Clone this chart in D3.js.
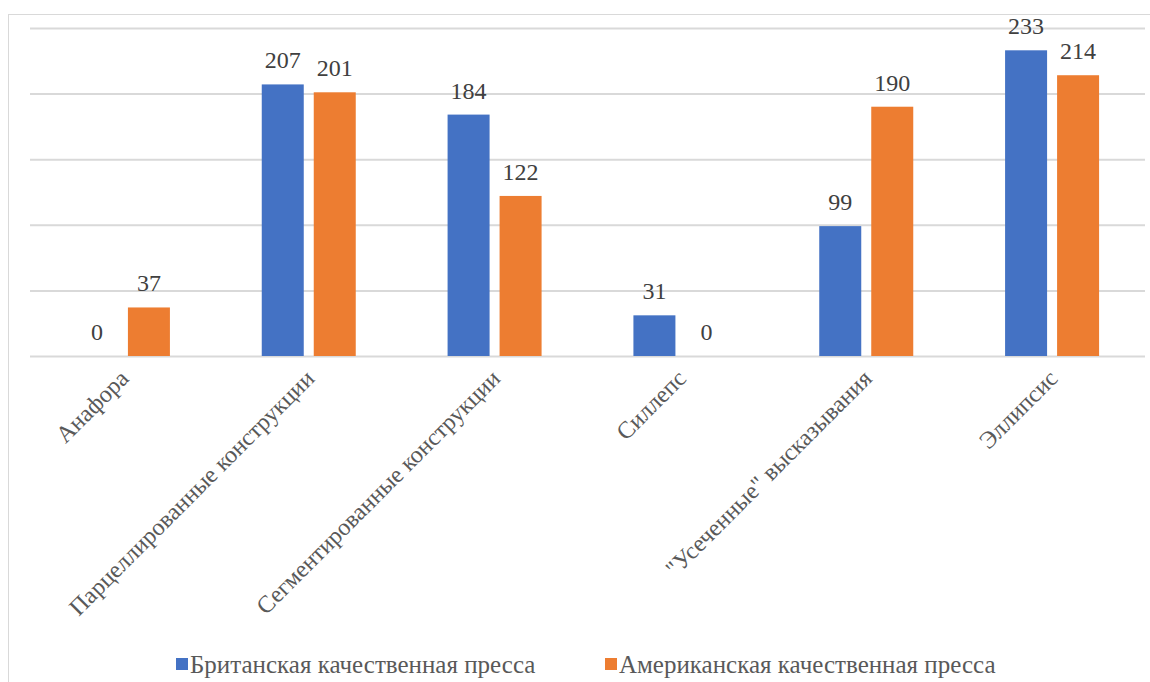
<!DOCTYPE html>
<html>
<head>
<meta charset="utf-8">
<script src="https://cdn.jsdelivr.net/npm/d3@7"></script>
</head>
<body style="margin:0">
<div id="chart"></div>
<script>
// data
var categories = ["Анафора", "Парцеллированные конструкции", "Сегментированные конструкции", "Силлепс", "\"Усеченные\"  высказывания", "Эллипсис"];
var british = [0, 207, 184, 31, 99, 233];
var american = [37, 201, 122, 0, 190, 214];
var seriesNames = ["Британская качественная пресса", "Американская качественная пресса"];
var yTicks = [0, 50, 100, 150, 200, 250];

var W = 1150, H = 682;
var plot = {left: 30, right: 1145, top: 28, bottom: 356};
var colors = ["#4472C4", "#ED7D31"];
var font = "Liberation Serif";

var svg = d3.select("#chart").append("svg")
  .attr("width", W).attr("height", H);

// outer chart border
svg.append("rect")
  .attr("x", 8.5).attr("y", 14.5)
  .attr("width", 1160).attr("height", 700)
  .attr("fill", "none").attr("stroke", "#d9d9d9").attr("stroke-width", 1);

var x = d3.scaleBand().domain(categories).range([plot.left, plot.right]);
var y = d3.scaleLinear().domain([0, 250]).range([plot.bottom, plot.top]);

// gridlines
svg.append("g")
  .attr("transform", "translate(" + plot.left + ",0)")
  .call(d3.axisLeft(y).tickValues(yTicks).tickSize(-(plot.right - plot.left)).tickFormat(""))
  .call(function(g) {
    g.select(".domain").remove();
    g.selectAll(".tick line").attr("stroke", "#d9d9d9").attr("stroke-width", 2);
  });

var data = categories.map(function(c, i) {
  return {cat: c, values: [british[i], american[i]]};
});

var barW = 42, gap = 10;
var xs = d3.scaleBand().domain([0, 1]).range([0, barW * 2 + gap]).paddingInner(gap / (barW + gap));

var groups = svg.selectAll(".grp").data(data).enter().append("g")
  .attr("transform", function(d) {
    return "translate(" + (x(d.cat) + x.bandwidth() / 2 - (barW * 2 + gap) / 2) + ",0)";
  });

groups.selectAll("rect").data(function(d) { return d.values; }).enter().append("rect")
  .attr("x", function(v, i) { return xs(i); })
  .attr("width", xs.bandwidth())
  .attr("y", function(v) { return y(v); })
  .attr("height", function(v) { return y(0) - y(v); })
  .attr("fill", function(v, i) { return colors[i]; });

groups.selectAll("text").data(function(d) { return d.values; }).enter().append("text")
  .attr("x", function(v, i) { return xs(i) + xs.bandwidth() / 2; })
  .attr("y", function(v) { return y(v) - 16; })
  .attr("text-anchor", "middle")
  .attr("font-family", font).attr("font-size", 24).attr("fill", "#404040")
  .text(function(v) { return v; });

// category labels
svg.selectAll(".cat").data(categories).enter().append("text")
  .attr("transform", function(d) {
    return "translate(" + (x(d) + x.bandwidth() / 2 + 7) + ",380) rotate(-45)";
  })
  .attr("text-anchor", "end")
  .attr("font-family", font).attr("font-size", 24).attr("fill", "#595959")
  .text(function(d) { return d; });

// legend
var legendX = [176, 605];
var leg = svg.selectAll(".leg").data(seriesNames).enter().append("g")
  .attr("transform", function(d, i) { return "translate(" + legendX[i] + ",658)"; });
leg.append("rect").attr("width", 12).attr("height", 12)
  .attr("fill", function(d, i) { return colors[i]; });
leg.append("text")
  .attr("x", 14).attr("y", 15)
  .attr("font-family", font).attr("font-size", 25).attr("fill", "#595959")
  .text(function(d) { return d; });
</script>
</body>
</html>
